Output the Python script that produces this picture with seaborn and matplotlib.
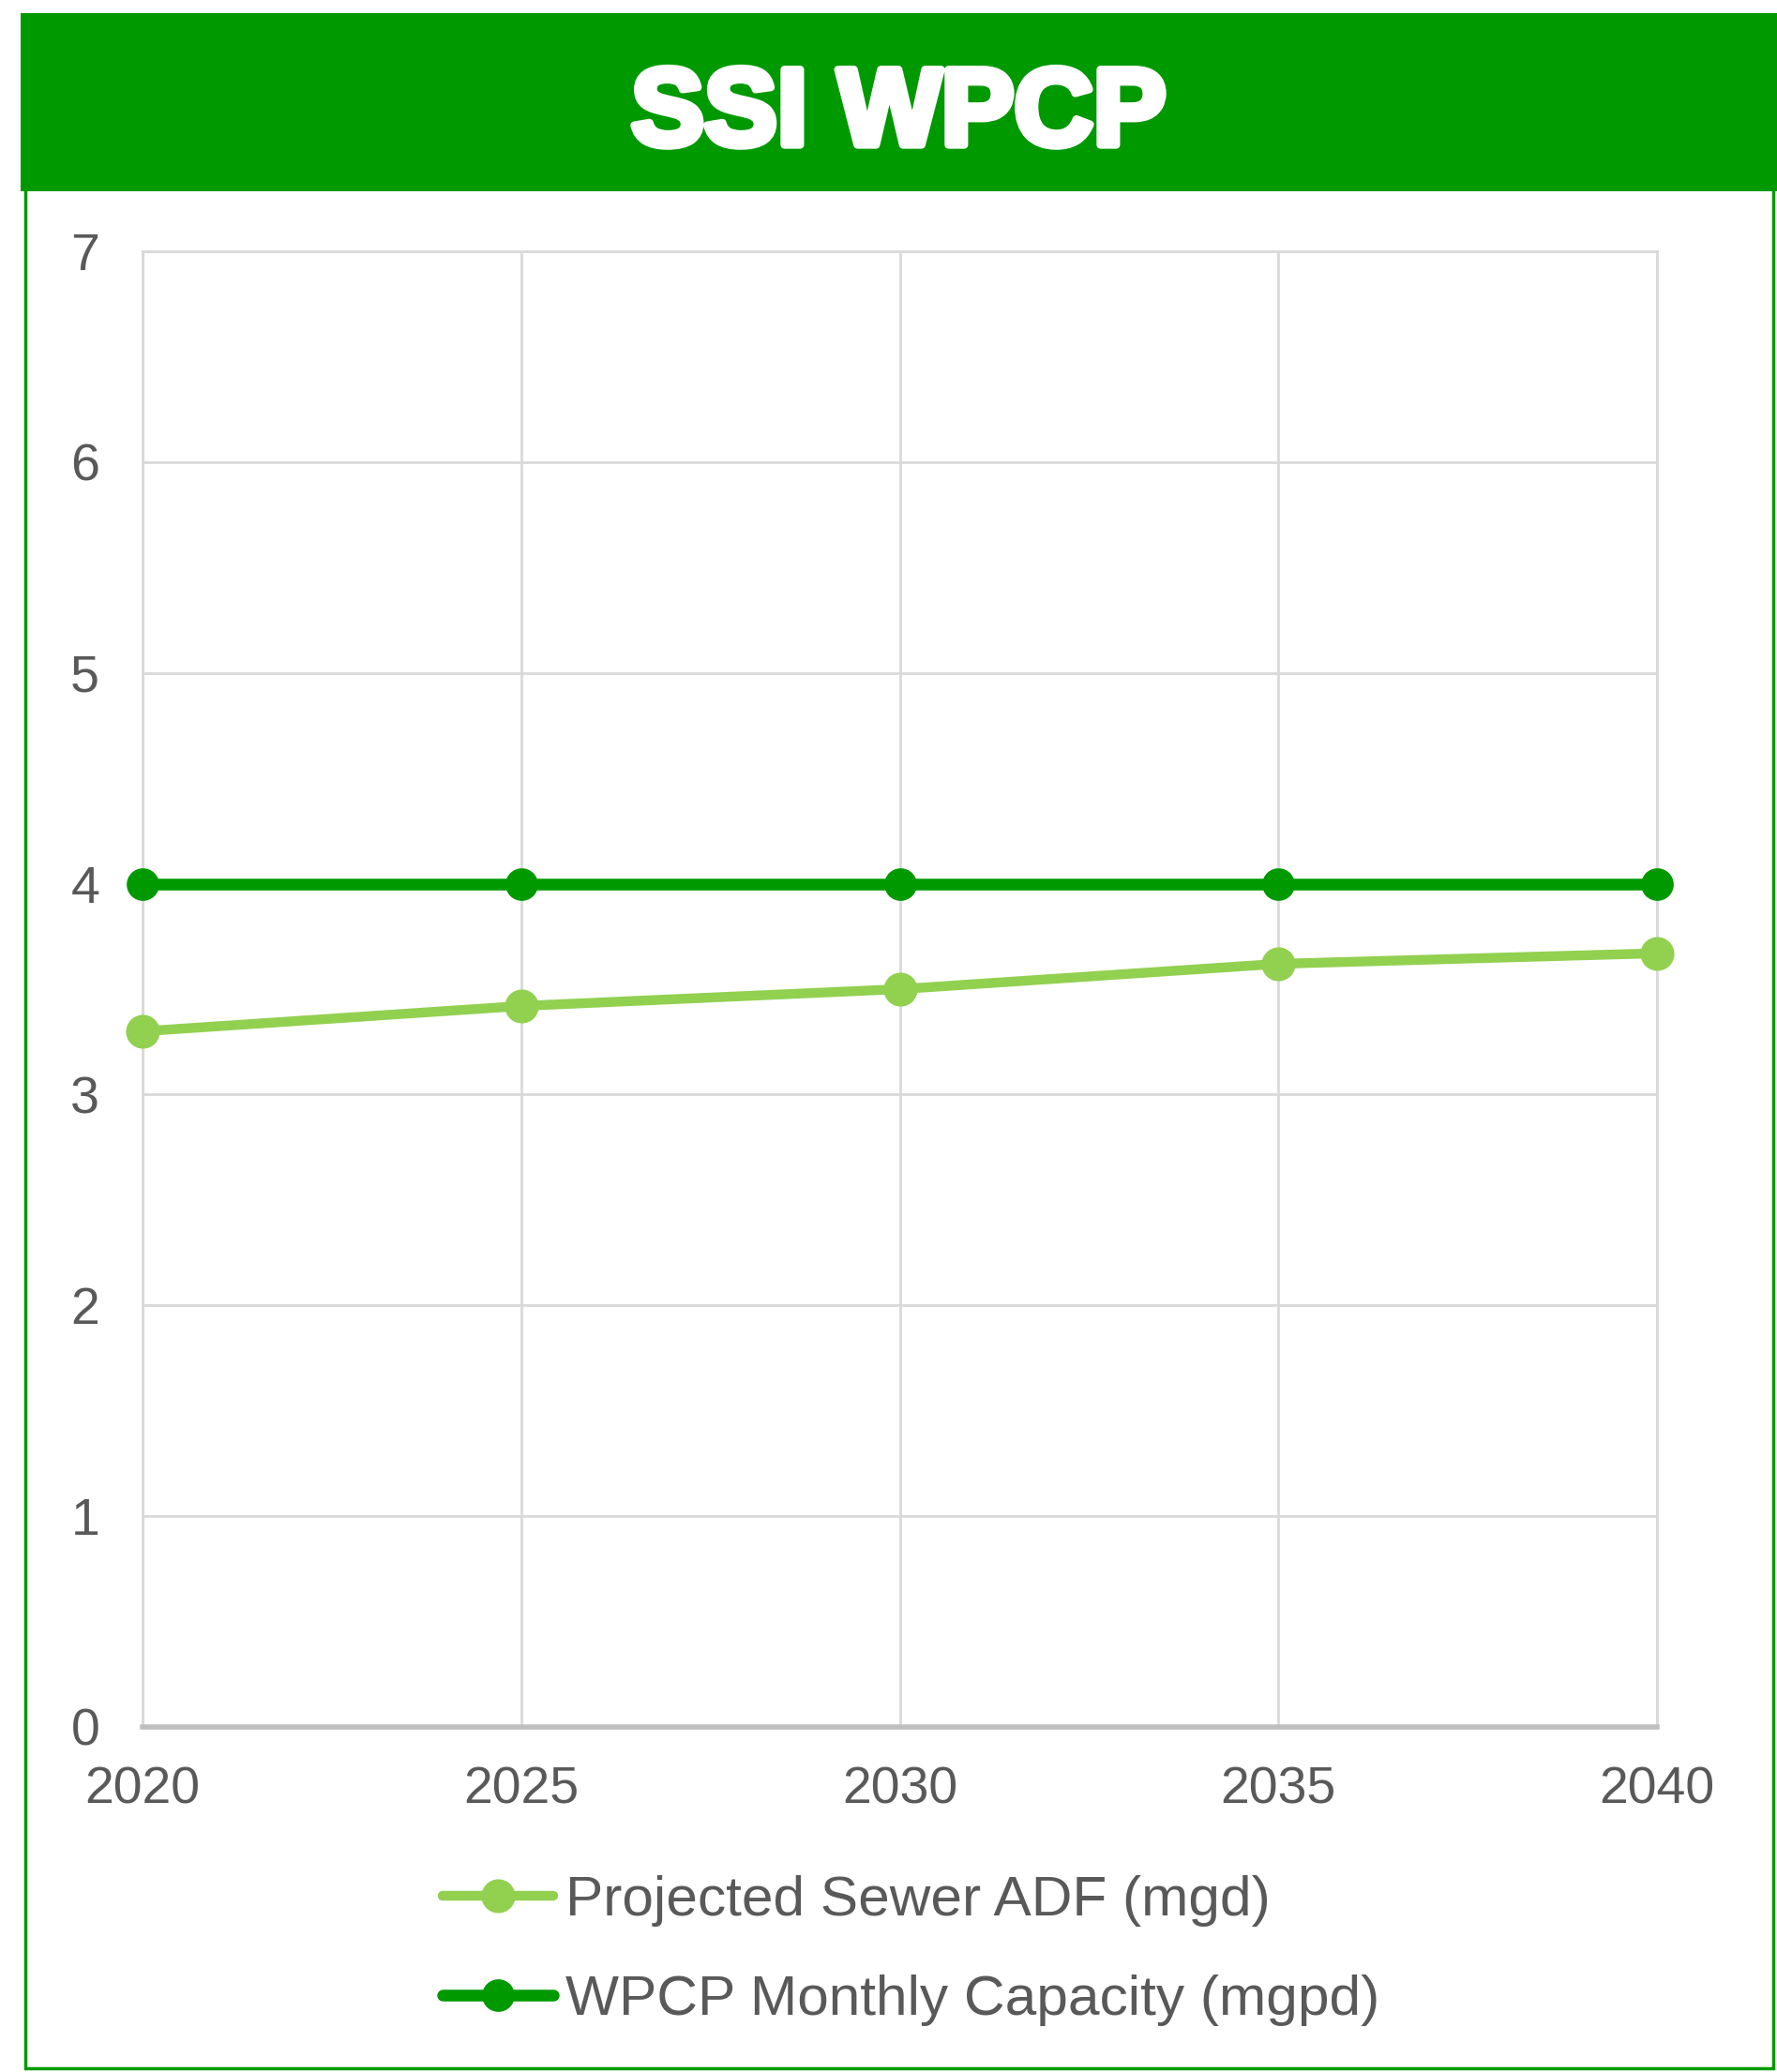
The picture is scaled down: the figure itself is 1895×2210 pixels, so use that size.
import matplotlib
matplotlib.use("Agg")
import matplotlib.pyplot as plt
import matplotlib.patheffects as pe
import seaborn as sns
import pandas as pd
from matplotlib.patches import Rectangle

# данные
years = [2020, 2025, 2030, 2035, 2040]
sewer_adf = [3.30, 3.42, 3.50, 3.62, 3.67]
wpcp_capacity = [4.0, 4.0, 4.0, 4.0, 4.0]
series_names = ["Projected Sewer ADF (mgd)", "WPCP Monthly Capacity (mgpd)"]
title = "SSI WPCP"

dark_green = "#009900"
light_green = "#92D050"
text_gray = "#595959"

sns.set_theme(style="white")
plt.rcParams["font.family"] = ["Liberation Sans", "DejaVu Sans"]

W, H = 1895, 2210
fig = plt.figure(figsize=(W / 100, H / 100), dpi=100)

# рамка и шапка
fig.patches.append(Rectangle((27 / W, 4 / H), (1891 - 27) / W, 2006 / H,
                             transform=fig.transFigure, facecolor="white",
                             edgecolor=dark_green, linewidth=2.5, zorder=0))
fig.patches.append(Rectangle((22 / W, 1 - 204 / H), 1 - 22 / W, 190 / H,
                             transform=fig.transFigure, facecolor=dark_green,
                             edgecolor="none", zorder=1))
fig.text(958 / W, 1 - 124 / H, title, color="white", fontsize=84,
         fontweight="bold", ha="center", va="center",
         path_effects=[pe.withStroke(linewidth=6, foreground="white")])

ax = fig.add_axes([152 / W, 1 - 1842 / H, (1767 - 152) / W, (1842 - 268) / H])
ax.set_zorder(5)

df = pd.DataFrame({"year": years, "adf": sewer_adf, "cap": wpcp_capacity})
sns.lineplot(data=df, x="year", y="adf", ax=ax, color=light_green, linewidth=7.5,
             marker="o", markersize=26, markeredgewidth=0, label=series_names[0],
             clip_on=False, zorder=3)
sns.lineplot(data=df, x="year", y="cap", ax=ax, color=dark_green, linewidth=9,
             marker="o", markersize=25, markeredgewidth=0, label=series_names[1],
             clip_on=False, zorder=4)

ax.set_xlim(2020, 2040)
ax.set_ylim(0, 7)
ax.set_xticks(years)
ax.set_yticks(range(0, 8))
ax.set_xlabel("")
ax.set_ylabel("")
ax.grid(True, color="#d9d9d9", linewidth=2)
for s in ["top", "right", "left"]:
    ax.spines[s].set_color("#d9d9d9")
    ax.spines[s].set_linewidth(2)
ax.spines["bottom"].set_color("#bfbfbf")
ax.spines["bottom"].set_linewidth(4)
ax.tick_params(axis="both", length=0, labelsize=40, labelcolor=text_gray)
ax.tick_params(axis="y", pad=33)
ax.tick_params(axis="x", pad=30)

leg = ax.legend(loc="upper left", bbox_to_anchor=(472 / W, 1 - 2000 / H),
                bbox_transform=fig.transFigure, frameon=False, fontsize=43.5,
                handlelength=1.95, handletextpad=0.22, labelspacing=0.84,
                borderpad=0, borderaxespad=0)
for t in leg.get_texts():
    t.set_color(text_gray)

fig.savefig("out.png", dpi=100, facecolor="white")
